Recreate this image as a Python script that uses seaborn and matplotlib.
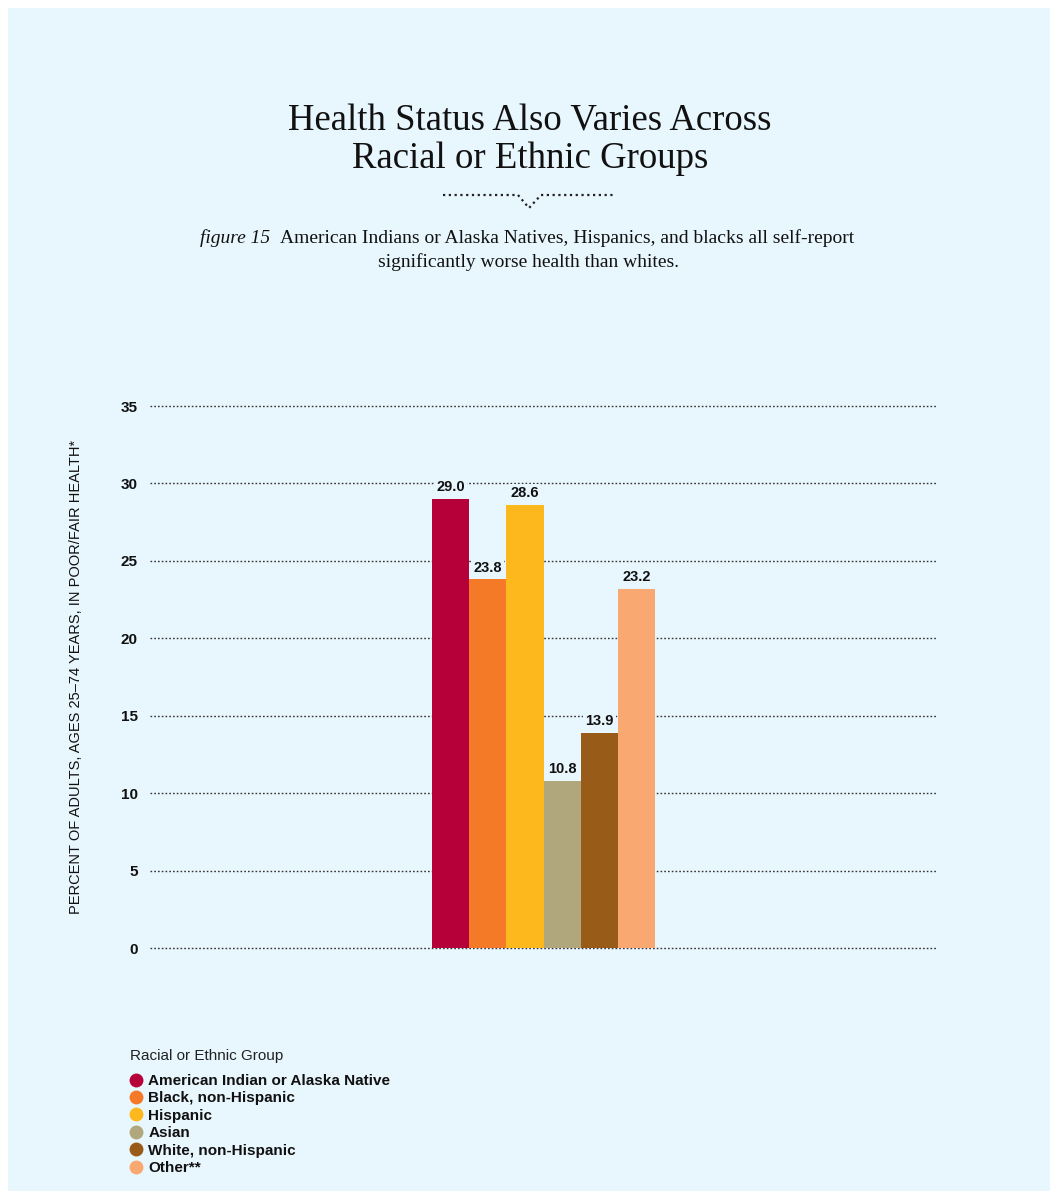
import matplotlib
matplotlib.use('Agg')
import pandas as pd
import matplotlib.pyplot as plt
import seaborn as sns
from matplotlib.lines import Line2D
from matplotlib.patches import Rectangle

groups = ['American Indian or Alaska Native', 'Black, non-Hispanic', 'Hispanic',
          'Asian', 'White, non-Hispanic', 'Other**']
values = [29.0, 23.8, 28.6, 10.8, 13.9, 23.2]
colors = ['#B5003A', '#F47A28', '#FDB81E', '#B0A87C', '#985C18', '#F9A872']
yticks = [0, 5, 10, 15, 20, 25, 30, 35]

bg = '#E8F6FD'

sns.set_style('white')
plt.rcParams['font.family'] = ['Liberation Sans', 'DejaVu Sans']

df = pd.DataFrame({'x': ['all'] * len(groups), 'group': groups, 'value': values})

fig = plt.figure(figsize=(10.58, 11.99), dpi=100)
fig.patch.set_facecolor('white')
fig.patches.append(Rectangle((8 / 1058, 8 / 1199), 1 - 16 / 1058, 1 - 16 / 1199,
                             transform=fig.transFigure, facecolor=bg,
                             edgecolor='none', zorder=-10))

ax = fig.add_axes([150 / 1058, 251 / 1199, 787 / 1058, 542 / 1199])
ax.set_facecolor('none')

sns.barplot(data=df, x='x', y='value', hue='group', hue_order=groups,
            palette=colors, width=0.8, saturation=1, legend=False,
            linewidth=0, ax=ax)

ax.set_xlim(-1.41, 1.41)
ax.set_ylim(0, 35)
for s in ax.spines.values():
    s.set_visible(False)
ax.set_xticks([])
ax.set_xlabel('')
ax.set_yticks(yticks)
ax.set_yticklabels([str(t) for t in yticks], fontsize=11, fontweight='bold',
                   color='#111111')
ax.tick_params(axis='y', length=0, pad=9)
for t in yticks:
    ax.axhline(t, color='#333333', linestyle=(0, (1.2, 1.5)), linewidth=1.0,
               clip_on=False, zorder=0.5)
ax.set_ylabel('PERCENT OF ADULTS, AGES 25\u201374 YEARS, IN POOR/FAIR HEALTH*',
              fontsize=10.5, labelpad=27, color='#111111')

for cont in ax.containers:
    for bar in cont:
        h = bar.get_height()
        ax.text(bar.get_x() + bar.get_width() / 2, h + 0.3, f'{h:.1f}',
                ha='center', va='bottom', fontsize=10.5, fontweight='bold',
                color='#111111',
                bbox=dict(facecolor=bg, edgecolor='none', pad=1.5))

# title
fig.text(530 / 1058, 1 - 121 / 1199, 'Health Status Also Varies Across',
         ha='center', va='center', fontsize=26.5, family='Liberation Serif',
         color='#111111')
fig.text(530 / 1058, 1 - 159 / 1199, 'Racial or Ethnic Groups',
         ha='center', va='center', fontsize=26.5, family='Liberation Serif',
         color='#111111')

# dotted divider with V
dot = dict(color='#222222', linestyle=(0, (1, 1.6)), linewidth=1.6,
           transform=fig.transFigure)
y0 = 1 - 195 / 1199
fig.add_artist(Line2D([443 / 1058, 518 / 1058], [y0, y0], **dot))
fig.add_artist(Line2D([541 / 1058, 615 / 1058], [y0, y0], **dot))
fig.add_artist(Line2D([518 / 1058, 529 / 1058, 541 / 1058],
                      [y0, 1 - 208 / 1199, y0], **dot))

# subtitle
fig.text(200 / 1058, 1 - 238 / 1199, 'figure 15', ha='left', va='center',
         fontsize=14, family='Liberation Serif', style='italic', color='#111111')
fig.text(280 / 1058, 1 - 238 / 1199,
         'American Indians or Alaska Natives, Hispanics, and blacks all self-report',
         ha='left', va='center', fontsize=14, family='Liberation Serif',
         color='#111111')
fig.text(528 / 1058, 1 - 262 / 1199, 'significantly worse health than whites.',
         ha='center', va='center', fontsize=14, family='Liberation Serif',
         color='#111111')

# legend
handles = [Line2D([], [], marker='o', linestyle='none', markersize=10,
                  markerfacecolor=c, markeredgecolor='none') for c in colors]
leg = fig.legend(handles, groups, loc='upper left',
                 bbox_to_anchor=(130 / 1058, 1 - 1049 / 1199),
                 title='Racial or Ethnic Group', frameon=False,
                 prop={'weight': 'bold', 'size': 11}, title_fontsize=11,
                 handletextpad=0.4, labelspacing=0.22, handlelength=0.8,
                 borderaxespad=0, borderpad=0)
leg._legend_box.align = 'left'
leg._legend_box.sep = 8
leg.get_title().set_color('#222222')
for t in leg.get_texts():
    t.set_color('#111111')

fig.savefig('out.png', dpi=100, facecolor=fig.get_facecolor())
